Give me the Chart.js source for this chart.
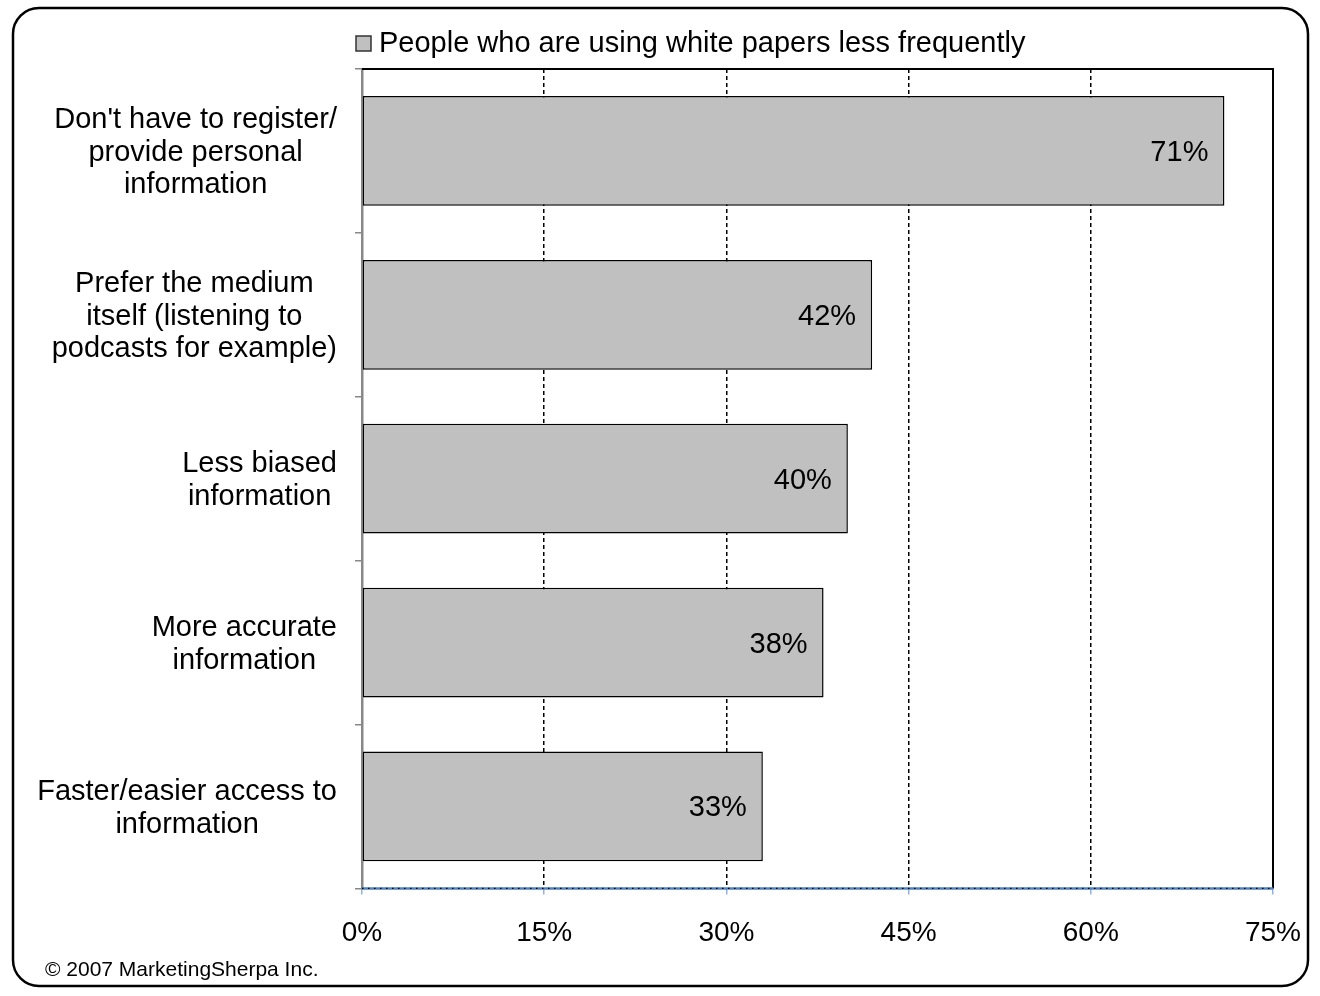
<!DOCTYPE html>
<html>
<head>
<meta charset="utf-8">
<title>White paper usage</title>
<script src="https://cdn.jsdelivr.net/npm/chart.js@4.4.1/dist/chart.umd.min.js"></script>
<style>
  html, body { margin: 0; padding: 0; background: #fff; }
  #wrap { width: 1320px; height: 996px; position: relative; }
</style>
</head>
<body>
<div id="wrap"><canvas id="reasonsChart" width="1320" height="996"></canvas></div>
<script>
const reasons = [
  ["Don't have to register/", "provide personal", "information"],
  ["Prefer the medium", "itself (listening to", "podcasts for example)"],
  ["Less biased", "information"],
  ["More accurate", "information"],
  ["Faster/easier access to", "information"],
];
const shares = [71, 42, 40, 38, 33];
const seriesName = "People who are using white papers less frequently";
const xMax = 75;
const xStep = 15;
const footnote = "\u00A9 2007 MarketingSherpa Inc.";

const FONT = "Liberation Sans, Arial, Helvetica, sans-serif";

// frame, legend, category labels, value labels and footnote
const decorations = {
  id: "decorations",
  beforeDraw(chart) {
    const ctx = chart.ctx;
    ctx.save();
    ctx.fillStyle = "#fff";
    ctx.fillRect(0, 0, chart.width, chart.height);
    ctx.strokeStyle = "#000";
    ctx.lineWidth = 2.5;
    ctx.beginPath();
    ctx.roundRect(13, 8, 1295, 978, 26);
    ctx.stroke();
    ctx.restore();
  },
  afterDatasetsDraw(chart) {
    const ctx = chart.ctx;
    const area = chart.chartArea;
    const y = chart.scales.y;
    ctx.save();

    // top and right edges of the plot
    ctx.strokeStyle = "#000";
    ctx.lineWidth = 2;
    ctx.beginPath();
    ctx.moveTo(area.left, area.top);
    ctx.lineTo(area.right, area.top);
    ctx.lineTo(area.right, area.bottom);
    ctx.stroke();

    // value axis line: blue with a dotted black overlay
    ctx.strokeStyle = "#4f81bd";
    ctx.lineWidth = 2.5;
    ctx.beginPath();
    ctx.moveTo(area.left, area.bottom);
    ctx.lineTo(area.right, area.bottom);
    ctx.stroke();
    ctx.strokeStyle = "#000";
    ctx.setLineDash([1.5, 4.5]);
    ctx.lineWidth = 1.2;
    ctx.beginPath();
    ctx.moveTo(area.left, area.bottom);
    ctx.lineTo(area.right, area.bottom);
    ctx.stroke();
    ctx.setLineDash([]);

    // category labels, centred lines in a block ending left of the axis
    ctx.fillStyle = "#000";
    ctx.font = "29px " + FONT;
    ctx.textBaseline = "middle";
    ctx.textAlign = "center";
    const lineH = 32.5;
    reasons.forEach((lines, i) => {
      const cy = y.getPixelForValue(i);
      const w = Math.max(...lines.map(l => ctx.measureText(l).width));
      const cx = area.left - 25 - w / 2;
      lines.forEach((l, j) => {
        ctx.fillText(l, cx, cy + 2 + (j - (lines.length - 1) / 2) * lineH);
      });
    });

    // value labels inside bar ends
    ctx.textAlign = "right";
    chart.getDatasetMeta(0).data.forEach((bar, i) => {
      ctx.fillText(shares[i] + "%", bar.x - 16, bar.y + 2);
    });

    // legend
    const ds = chart.data.datasets[0];
    ctx.fillStyle = ds.backgroundColor;
    ctx.fillRect(356, 36, 15, 15);
    ctx.strokeStyle = "#333";
    ctx.lineWidth = 1.5;
    ctx.strokeRect(356, 36, 15, 15);
    ctx.fillStyle = "#000";
    ctx.textAlign = "left";
    ctx.fillText(ds.label, 379, 44);

    // footnote
    ctx.font = "21px " + FONT;
    ctx.fillText(footnote, 45, 970);
    ctx.restore();
  }
};

new Chart(document.getElementById("reasonsChart"), {
  type: "bar",
  data: {
    labels: reasons,
    datasets: [{
      label: seriesName,
      data: shares,
      backgroundColor: "#c0c0c0",
      borderColor: "#000",
      borderWidth: 1.5,
      borderSkipped: false,
      barPercentage: 0.67,
      categoryPercentage: 1.0,
    }],
  },
  options: {
    indexAxis: "y",
    responsive: false,
    animation: false,
    layout: { padding: { left: 362, top: 69, right: 47, bottom: 24 } },
    plugins: {
      legend: { display: false },
      tooltip: { enabled: false },
    },
    scales: {
      x: {
        min: 0,
        max: xMax,
        afterFit(scale) {
          scale.paddingLeft = 0;
          scale.paddingRight = 0;
        },
        ticks: {
          stepSize: xStep,
          padding: 22,
          color: "#000",
          font: { family: FONT, size: 28 },
          callback: v => v + "%",
        },
        grid: {
          color: ctx => (ctx.tick && (ctx.tick.value === 0 || ctx.tick.value === xMax)) ? "rgba(0,0,0,0)" : "#000",
          lineWidth: 1.5,
          tickColor: "#8eb4e3",
          tickLength: 6,
        },
        border: { display: false, dash: [4, 3] },
      },
      y: {
        afterFit(scale) { scale.width = 0; },
        ticks: { display: false },
        grid: {
          offset: true,
          drawOnChartArea: false,
          drawTicks: true,
          tickLength: 7,
          color: "#888",
          lineWidth: 1.5,
        },
        border: { display: true, color: "#888", width: 2.5 },
      },
    },
  },
  plugins: [decorations],
});
</script>
</body>
</html>
